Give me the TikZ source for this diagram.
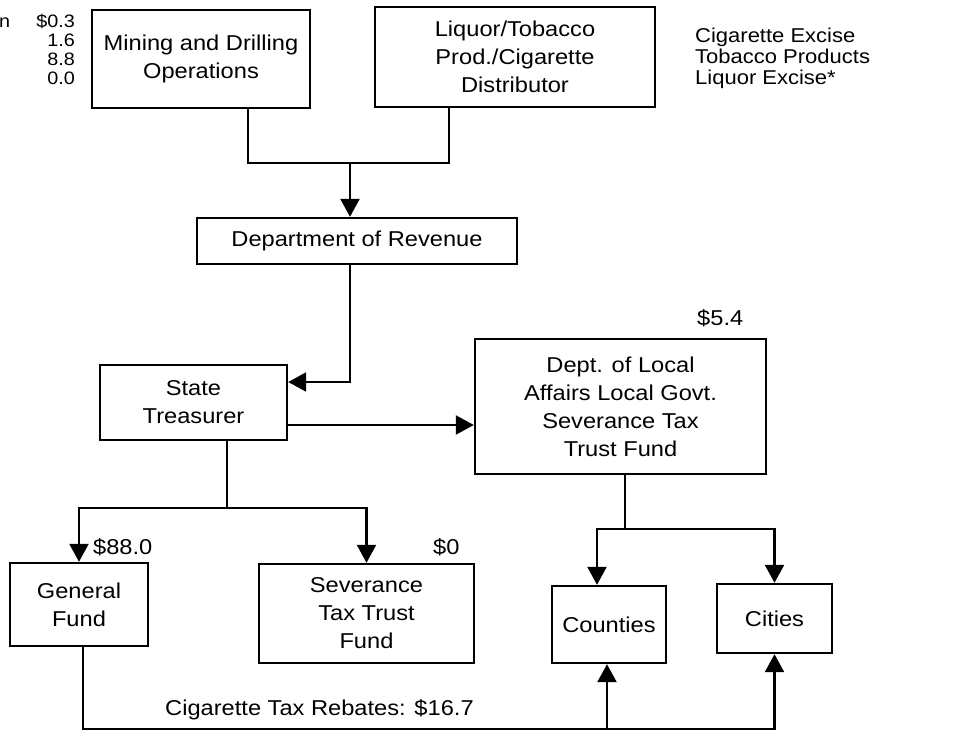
\documentclass[tikz,border=0pt]{standalone}
\usepackage{fontspec}
\setmainfont{Liberation Sans}[FakeStretch=1.1]
\usepackage{tikz}
\usetikzlibrary{arrows.meta}
\usetikzlibrary{positioning}
\tikzset{box/.style = {draw, line width=2.4pt, align=center, inner sep=0,
                       font=\fontsize{21.5}{28}\selectfont}}
\tikzset{wire/.style = {line width=2.4pt}}
\tikzset{flow/.style = {line width=2.4pt, -{Triangle[length=18pt, width=19pt]}}}
\tikzset{sum/.style = {inner sep=0, font=\fontsize{21.5}{28}\selectfont}}

\begin{document}
\begin{tikzpicture}[x=1pt, y=-1pt]
      \useasboundingbox (0,0) rectangle (954,732);

      % sources
      \node [box, minimum width=218pt, minimum height=98pt] (mining) at (201,59) {Mining and Drilling\\Operations};
      \node [box, minimum width=280pt, minimum height=100pt] (liquor) at (515,57) {Liquor/Tobacco\\Prod./Cigarette\\Distributor};
      \node [anchor=base west, inner sep=0, font=\fontsize{18}{19}\selectfont] (cut) at (-1,27) {n};
      \node [anchor=north east, align=right, inner sep=0, font=\fontsize{18}{19}\selectfont] (minamt) at (75,14) {\$0.3\\1.6\\8.8\\0.0};
      \node [anchor=north west, align=left, inner sep=0, font=\fontsize{20}{21}\selectfont] (taxes) at (695,28) {Cigarette Excise\\Tobacco Products\\Liquor Excise*};

      \node [box, minimum width=320pt, minimum height=46pt] (revenue) at (357,241) {Department of Revenue};
      \node [box, minimum width=187pt, minimum height=75pt] (treasurer) at (193.5,402.5) {State\\Treasurer};
      \node [box, minimum width=291pt, minimum height=135pt] (dlocal) at (620.5,406.5) {Dept. of Local\\Affairs Local Govt.\\Severance Tax\\Trust Fund};

      % funds
      \node [box, minimum width=138pt, minimum height=83pt] (general) at (79,604.5) {General\\Fund};
      \node [box, minimum width=215pt, minimum height=99pt] (sevtrust) at (366.5,613.5) {Severance\\Tax Trust\\Fund};
      \node [box, minimum width=114pt, minimum height=77pt] (counties) at (609,624.5) {Counties};
      \node [box, minimum width=115pt, minimum height=69pt] (cities) at (774.5,618.5) {Cities};

      \node [sum, anchor=west] (localamt) at (697,318) {\$5.4};
      \node [sum, anchor=west] (genamt) at (93,547) {\$88.0};
      \node [sum, anchor=west] (sevamt) at (433,547) {\$0};
      \node [sum, anchor=west] (rebamt) at (165,710) {Cigarette Tax Rebates: \$16.7};

      % connectors
      \coordinate (join) at (350,163);
      \draw [wire] ([xshift=47pt]mining.south) |- (join) -| ([xshift=-66pt]liquor.south);
      \draw [flow] (join) -- (join |- revenue.north);
      \draw [flow] (join |- revenue.south) |- ([yshift=20.5pt]treasurer.east);
      \coordinate (tout) at ([yshift=-22.5pt]treasurer.east);
      \draw [flow] (tout) -- (tout -| dlocal.west);

      \coordinate (split) at (227,508);
      \draw [wire] (split |- treasurer.south) -- (split);
      \draw [flow] (split) -| (general.north);
      \draw [flow] (split) -| (sevtrust.north);

      \coordinate (fork) at (625,529);
      \coordinate (cin) at ([xshift=-12pt]counties.north);
      \draw [wire] (fork |- dlocal.south) -- (fork);
      \draw [flow] (fork) -| (cin);
      \draw [flow] (fork) -| (cities.north);

      \coordinate (rebate) at (83,729);
      \coordinate (cup) at ([xshift=-2pt]counties.south);
      \draw [wire] (rebate |- general.south) -- (rebate) -- (rebate -| cup);
      \draw [flow] (rebate -| cup) -- (cup);
      \draw [flow] (rebate -| cup) -| (cities.south);
    \end{tikzpicture}
\end{document}
